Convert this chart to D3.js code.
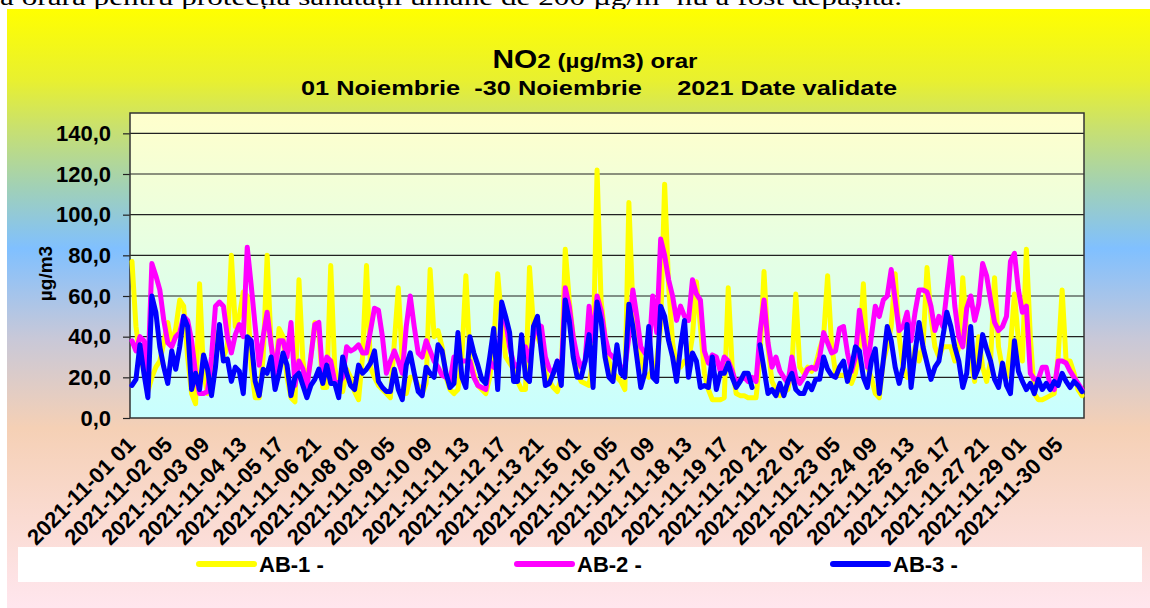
<!DOCTYPE html>
<html>
<head>
<meta charset="utf-8">
<script src="https://cdn.jsdelivr.net/npm/d3@7"></script>
<style>
  body { margin: 0; background: #fff; }
  svg { display: block; }
  text { font-family: "Liberation Sans", Arial, sans-serif; font-weight: bold; fill: #000; white-space: pre; }
</style>
</head>
<body>
<div id="container"></div>
<script>
/* DATA - NO2 hourly, every 3rd hour */
const seriesNames = ["AB-1 -", "AB-2 -", "AB-3 -"];
const seriesColors = ["#ffff00", "#ff00ff", "#0000ff"];

const ab1 = [77,45,30,24,13,20,25,28,37,47,36,44,58,55,30,12,7,66,22,12,22,42,40,30,35,80,45,50,62,60,25,10,10,30,80,36,20,44,40,20,10,8,68,28,16,30,47,43,
  15,15,75,25,15,13,24,20,13,9,30,75,25,20,16,14,12,10,37,64,28,12,20,20,16,12,17,73,40,43,35,20,14,12,14,30,70,30,22,16,14,12,20,35,71,48,30,27,
  24,18,14,14,74,45,40,35,23,18,15,13,20,83,58,40,22,18,17,16,30,122,58,40,28,22,20,18,14,106,55,40,30,22,20,25,28,45,115,65,37,25,25,28,28,40,67,45,
  22,14,9,9,9,10,64,25,12,11,11,10,10,10,30,72,35,18,14,11,13,14,25,61,25,22,25,23,26,34,40,70,36,22,21,21,20,17,22,35,66,25,20,12,10,28,35,
  45,71,40,25,20,22,35,28,35,74,50,35,30,35,35,35,28,35,69,42,28,18,40,25,18,28,69,35,24,20,35,61,38,28,83,40,12,9,9,10,11,12,30,63,28,28,22,14,11];

const ab2 = [38,33,40,38,22,76,70,63,48,37,35,40,42,50,48,38,22,12,12,13,30,55,57,55,40,32,41,46,40,84,65,45,26,40,52,36,22,38,38,30,47,16,28,24,15,30,46,47,
  20,30,28,18,17,20,35,33,34,36,32,32,43,54,53,40,22,28,33,28,22,45,60,45,32,30,38,33,28,25,21,20,18,30,30,28,28,28,20,16,15,14,28,25,24,50,48,35,
  27,25,30,35,28,40,46,45,30,24,22,28,22,64,55,40,30,25,28,55,38,60,53,40,32,30,28,25,25,40,63,50,35,32,30,60,42,88,80,68,60,48,55,50,48,68,61,58,
  33,27,31,30,23,30,28,23,17,19,20,18,20,18,42,58,37,25,30,23,20,17,30,20,17,20,24,25,24,30,42,37,32,33,44,45,32,23,30,53,40,25,40,55,50,58,60,
  73,58,43,45,52,38,52,63,63,62,55,43,50,45,62,79,55,40,35,54,60,48,56,76,70,58,47,43,45,50,77,81,63,52,55,22,19,19,25,25,16,14,28,28,27,23,20,17,14];

const ab3 = [16,19,36,22,10,60,52,35,25,17,33,24,35,50,45,14,22,14,31,24,11,25,46,28,29,18,25,23,12,40,38,18,11,24,22,30,14,22,32,26,11,20,22,16,10,16,19,24,
  17,26,17,17,10,30,22,16,14,26,22,24,27,33,18,15,13,13,24,14,9,26,32,22,13,11,25,22,20,36,33,22,15,17,42,20,15,40,32,26,19,17,30,44,14,57,50,42,
  18,18,41,20,18,45,50,32,16,17,22,28,16,58,48,30,20,20,28,41,15,57,48,30,20,18,36,22,20,56,45,30,15,22,45,20,18,55,50,38,30,18,35,48,20,32,28,15,
  16,15,30,14,22,22,27,20,15,18,22,22,15,null,36,24,12,14,11,17,11,18,22,14,12,12,17,14,19,19,30,24,21,20,25,28,18,25,35,33,20,15,28,34,12,28,45,
  38,25,17,25,46,15,32,47,35,27,19,25,28,40,52,45,35,28,15,22,45,20,25,41,34,28,19,15,27,16,12,38,23,18,14,17,12,19,14,17,14,18,16,22,18,15,18,16,13];

const tickLabels = ["2021-11-01 01","2021-11-02 05","2021-11-03 09","2021-11-04 13","2021-11-05 17","2021-11-06 21",
  "2021-11-08 01","2021-11-09 05","2021-11-10 09","2021-11-11 13","2021-11-12 17","2021-11-13 21",
  "2021-11-15 01","2021-11-16 05","2021-11-17 09","2021-11-18 13","2021-11-19 17","2021-11-20 21",
  "2021-11-22 01","2021-11-23 05","2021-11-24 09","2021-11-25 13","2021-11-26 17","2021-11-27 21",
  "2021-11-29 01","2021-11-30 05"];
const yTicks = [0, 20, 40, 60, 80, 100, 120, 140];

const width = 1150, height = 608;
const plot = { left: 130, right: 1084, top: 113, bottom: 418 };

const svg = d3.select("#container").append("svg")
  .attr("width", width).attr("height", height);

// the cut off line of document text above the chart
svg.append("text")
  .attr("x", 0).attr("y", 5)
  .attr("textLength", 902).attr("lengthAdjust", "spacingAndGlyphs")
  .style("font-family", "'Liberation Serif', 'Times New Roman', serif")
  .style("font-weight", "normal").style("font-size", "24px")
  .text("a orară pentru protecția sănătății umane de 200 µg/m³ nu a fost depășită.");

const defs = svg.append("defs");
const bg = defs.append("linearGradient").attr("id", "bgGrad")
  .attr("x1", 0).attr("x2", 0).attr("y1", 0).attr("y2", 1);
[[0, "#ffff00"], [0.12, "#e8f030"], [0.2, "#c8e070"], [0.3, "#a0d0b8"], [0.4, "#80c0ff"],
 [0.55, "#c8c8d8"], [0.7, "#f5d0b5"], [1, "#ffe6ee"]].forEach(s =>
  bg.append("stop").attr("offset", s[0]).attr("stop-color", s[1]));
const pg = defs.append("linearGradient").attr("id", "plotGrad")
  .attr("x1", 0).attr("x2", 0).attr("y1", 0).attr("y2", 1);
pg.append("stop").attr("offset", 0).attr("stop-color", "#ffffcc");
pg.append("stop").attr("offset", 1).attr("stop-color", "#c8ffff");

svg.append("rect").attr("x", 7).attr("y", 9).attr("width", width - 7).attr("height", height - 9)
  .attr("fill", "url(#bgGrad)");

/* SCALES */
const hours = d3.range(720);
const xScale = d3.scaleBand().domain(hours).range([plot.left, plot.right]);
const cx = h => xScale(h) + xScale.bandwidth() / 2;
const yScale = d3.scaleLinear().domain([0, 150]).range([plot.bottom, plot.top]);

svg.append("rect")
  .attr("x", plot.left).attr("y", plot.top)
  .attr("width", plot.right - plot.left).attr("height", plot.bottom - plot.top)
  .attr("fill", "url(#plotGrad)");

// grid + y axis
const yAxis = d3.axisLeft(yScale).tickValues(yTicks).tickSize(7).tickPadding(12)
  .tickFormat(d => d3.format(".1f")(d).replace(".", ","));
const gy = svg.append("g").attr("transform", `translate(${plot.left},0)`).call(yAxis);
gy.select(".domain").remove();
gy.selectAll(".tick line").attr("stroke", "#222").attr("stroke-width", 1.2);
gy.selectAll(".tick text").style("font-size", "22px").style("font-family", "'Liberation Sans', Arial, sans-serif");

svg.append("g").selectAll("line")
  .data(yTicks.filter(d => d > 0))
  .join("line")
  .attr("x1", plot.left).attr("x2", plot.right)
  .attr("y1", d => yScale(d)).attr("y2", d => yScale(d))
  .attr("stroke", "#222").attr("stroke-width", 1.2);

svg.append("rect")
  .attr("x", plot.left).attr("y", plot.top)
  .attr("width", plot.right - plot.left).attr("height", plot.bottom - plot.top)
  .attr("fill", "none").attr("stroke", "#333").attr("stroke-width", 1.5);

svg.append("text")
  .attr("transform", `translate(52,${(plot.top + plot.bottom) / 2 + 8})rotate(-90)`)
  .attr("text-anchor", "middle").style("font-size", "19px")
  .text("µg/m3");

// x labels every 28 hours
svg.append("g").selectAll("text")
  .data(tickLabels)
  .join("text")
  .attr("text-anchor", "end")
  .attr("transform", (d, i) => `translate(${cx(i * 28) + 6},${plot.bottom + 28})rotate(-45)`)
  .style("font-size", "22px")
  .text(d => d);

/* LINES */
const line = d3.line()
  .defined(d => d.v != null)
  .x(d => cx(d.h))
  .y(d => yScale(d.v));

[ab1, ab2, ab3].forEach((vals, s) => {
  const pts = vals.map((v, k) => ({ h: k * 3 + 1, v: v }));
  svg.append("path")
    .datum(pts)
    .attr("d", line)
    .attr("fill", "none")
    .attr("stroke", seriesColors[s])
    .attr("stroke-width", 5)
    .attr("stroke-linejoin", "round")
    .attr("stroke-linecap", "round");
});

/* TITLE */
const t1 = svg.append("text").attr("x", 595).attr("y", 68).attr("text-anchor", "middle")
  .attr("textLength", 205).attr("lengthAdjust", "spacingAndGlyphs");
t1.append("tspan").style("font-size", "26px").text("NO");
t1.append("tspan").style("font-size", "21px").text("2 (µg/m3) orar");
svg.append("text").attr("x", 599).attr("y", 95).attr("text-anchor", "middle")
  .attr("textLength", 596).attr("lengthAdjust", "spacingAndGlyphs")
  .style("font-size", "21px")
  .text("01 Noiembrie  -30 Noiembrie     2021 Date validate");

/* LEGEND */
svg.append("rect").attr("x", 18).attr("y", 547).attr("width", 1124).attr("height", 35).attr("fill", "#fff");
const legX = [199, 517, 833];
seriesNames.forEach((name, i) => {
  svg.append("line")
    .attr("x1", legX[i]).attr("x2", legX[i] + 55)
    .attr("y1", 564).attr("y2", 564)
    .attr("stroke", seriesColors[i]).attr("stroke-width", 6).attr("stroke-linecap", "round");
  svg.append("text")
    .attr("x", legX[i] + 60).attr("y", 572)
    .style("font-size", "22px")
    .text(name);
});
</script>
</body>
</html>
